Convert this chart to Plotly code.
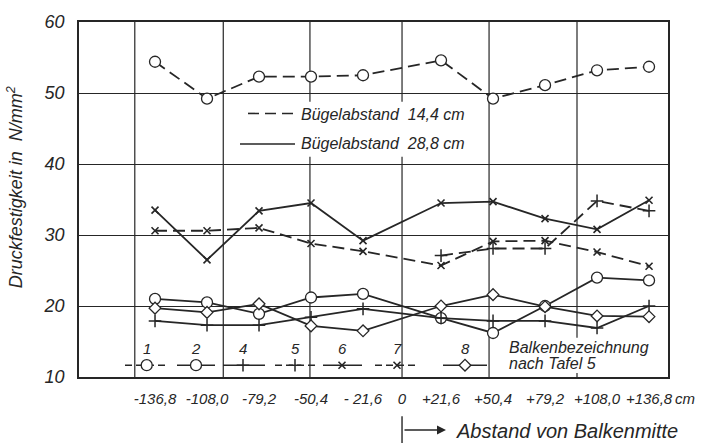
import plotly.graph_objects as go

# ---------------- data ----------------
X_CM = [-136.8, -108.0, -79.2, -50.4, -21.6, 21.6, 50.4, 79.2, 108.0, 136.8]
TICK_CM = [-136.8, -108.0, -79.2, -50.4, -21.6, 0, 21.6, 50.4, 79.2, 108.0, 136.8]
TICK_LABELS = ["-136,8", "-108,0", "-79,2", "-50,4", "- 21,6", "0",
               "+21,6", "+50,4", "+79,2", "+108,0", "+136,8"]
Y_TICKS = [10, 20, 30, 40, 50, 60]
BEAMS = ["1", "2", "4", "5", "6", "7", "8"]

BEAM_1 = [54.4, 49.2, 52.3, 52.3, 52.5, 54.6, 49.2, 51.1, 53.2, 53.7]
BEAM_2 = [21.0, 20.5, 18.9, 21.2, 21.7, 18.3, 16.2, 20.0, 24.0, 23.6]
BEAM_4 = [17.9, 17.3, 17.3, 18.4, 19.6, 18.3, 17.9, 17.9, 16.9, 20.0]
BEAM_5 = [None, None, None, None, None, 27.1, 28.1, 28.1, 34.8, 33.4]
BEAM_6 = [33.5, 26.5, 33.4, 34.5, 29.2, 34.5, 34.7, 32.3, 30.8, 34.9]
BEAM_7 = [30.6, 30.6, 31.0, 28.8, 27.7, 25.7, 29.1, 29.2, 27.6, 25.6]
BEAM_8 = [19.7, 19.1, 20.3, 17.2, 16.5, 20.0, 21.6, 19.9, 18.6, 18.5]

# ---------------- styles / geometry ----------------
INK = "#262626"
FONT = "Liberation Sans"
W, H = 702, 444
L, R, T, B = 79, 668, 16, 377
X_RANGE = [-178.9, 147.3]
GRID_X = [-148.0, -99.0, -51.0, 0.0, 48.2, 96.9]
DASH = "12px,6px"


def px(x):
    return (x - L) / (R - L)


def py(y):
    return (B - y) / (B - T)


MARKERS = {
    "circle": dict(symbol="circle", size=11, color="white", line=dict(color=INK, width=1.3)),
    "cross": dict(symbol="cross-thin", size=9, color=INK, line=dict(color=INK, width=1.5)),
    "x": dict(symbol="x-thin", size=7, color=INK, line=dict(color=INK, width=1.6)),
    "diamond": dict(symbol="diamond", size=9, color="white", line=dict(color=INK, width=1.3)),
}

SERIES = [
    (BEAM_1, "dashed", "circle"),
    (BEAM_2, "solid", "circle"),
    (BEAM_4, "solid", "cross"),
    (BEAM_5, "dashed", "cross"),
    (BEAM_6, "solid", "x"),
    (BEAM_7, "dashed", "x"),
    (BEAM_8, "solid", "diamond"),
]

fig = go.Figure()

for name, (vals, style, sym) in zip(BEAMS, SERIES):
    fig.add_trace(go.Scatter(
        x=X_CM, y=vals, name="Balken " + name, mode="lines+markers",
        line=dict(color=INK, width=1.8, dash=DASH if style == "dashed" else "solid"),
        marker=MARKERS[sym], showlegend=False, connectgaps=False,
    ))

# ---- legend keys (pixel-unit overlay axes) ----
KEY_Y = 365
KEY_NUM_Y = 348
KEY_POS = [(125, 146.7, 166), (177, 196, 215), (223, 243, 265), (275, 295, 315),
           (323, 342, 362), (375, 397, 417), (443, 465, 487)]
for name, (vals, style, sym), (x0, xm, x1) in zip(BEAMS, SERIES, KEY_POS):
    fig.add_trace(go.Scatter(
        x=[x0, x1], y=[KEY_Y, KEY_Y], mode="lines", xaxis="x3", yaxis="y3",
        line=dict(color=INK, width=1.5, dash="7px,4px" if style == "dashed" else "solid"),
        showlegend=False, hoverinfo="skip"))
    fig.add_trace(go.Scatter(
        x=[xm], y=[KEY_Y], mode="markers", xaxis="x3", yaxis="y3",
        marker=MARKERS[sym], showlegend=False, hoverinfo="skip"))

# spacing legend keys
fig.add_trace(go.Scatter(x=[248, 295], y=[109, 109], mode="lines", xaxis="x3", yaxis="y3",
                         line=dict(color=INK, width=1.6, dash="11px,6px"),
                         showlegend=False, hoverinfo="skip"))
fig.add_trace(go.Scatter(x=[240, 295], y=[140, 140], mode="lines", xaxis="x3", yaxis="y3",
                         line=dict(color=INK, width=1.6), showlegend=False, hoverinfo="skip"))

shapes = []
for g in GRID_X:
    shapes.append(dict(type="line", xref="x", yref="paper", x0=g, x1=g, y0=0, y1=1,
                       line=dict(color=INK, width=1.2), layer="below"))
# white backing behind legend texts
shapes.append(dict(type="rect", xref="paper", yref="paper", x0=px(240), x1=px(472),
                   y0=py(153), y1=py(97), fillcolor="white", line=dict(width=0), layer="below"))
shapes.append(dict(type="rect", xref="paper", yref="paper", x0=px(504), x1=px(656),
                   y0=py(373), y1=py(337), fillcolor="white", line=dict(width=0), layer="below"))
# origin marker below axis
shapes.append(dict(type="line", xref="x", yref="paper", x0=0, x1=0, y0=py(417), y1=py(444),
                   line=dict(color=INK, width=1.4)))

fnt = lambda s: dict(family=FONT, size=s, color=INK, style="italic")

annotations = [
    dict(text="Druckfestigkeit in\u00a0 N/mm<sup>2</sup>", textangle=-90, xref="paper", yref="paper",
         x=px(15), y=py(184), xanchor="center", yanchor="middle", showarrow=False, font=fnt(18)),
    dict(text="Bügelabstand\u00a0 14,4 cm", xref="paper", yref="paper", x=px(299), y=py(110),
         xanchor="left", yanchor="middle", showarrow=False, font=fnt(16)),
    dict(text="Bügelabstand\u00a0 28,8 cm", xref="paper", yref="paper", x=px(299), y=py(140),
         xanchor="left", yanchor="middle", showarrow=False, font=fnt(16)),
    dict(text="Balkenbezeichnung", xref="paper", yref="paper", x=px(507), y=py(347),
         xanchor="left", yanchor="middle", showarrow=False, font=fnt(16)),
    dict(text="nach Tafel 5", xref="paper", yref="paper", x=px(507), y=py(363),
         xanchor="left", yanchor="middle", showarrow=False, font=fnt(16)),
    dict(text="cm", xref="paper", yref="paper", x=px(673), y=py(399),
         xanchor="left", yanchor="middle", showarrow=False, font=fnt(15)),
    dict(text="", xref="paper", yref="paper", x=px(446), y=py(431), ax=-43, ay=0,
         axref="pixel", ayref="pixel", showarrow=True, arrowhead=2, arrowsize=1.2,
         arrowwidth=1.5, arrowcolor=INK),
    dict(text="Abstand von Balkenmitte", xref="paper", yref="paper", x=px(454), y=py(432),
         xanchor="left", yanchor="middle", showarrow=False, font=fnt(20)),
]
for name, (x0, xm, x1) in zip(BEAMS, KEY_POS):
    annotations.append(dict(text=name, xref="paper", yref="paper", x=px(xm), y=py(KEY_NUM_Y),
                            xanchor="center", yanchor="middle", showarrow=False, font=fnt(15)))

fig.update_layout(
    width=W, height=H,
    margin=dict(l=L, r=W - R, t=T, b=H - B, pad=0),
    paper_bgcolor="white", plot_bgcolor="white",
    font=dict(family=FONT, color=INK, style="italic"),
    xaxis=dict(range=X_RANGE, tickmode="array", tickvals=TICK_CM, ticktext=TICK_LABELS,
               showgrid=False, zeroline=False, showline=True, mirror=True,
               linecolor=INK, linewidth=1.6, ticks="", tickfont=fnt(15),
               ticklabelstandoff=7),
    yaxis=dict(range=[10, 60], tickmode="array", tickvals=Y_TICKS, showgrid=True,
               gridcolor=INK, gridwidth=1.2, zeroline=False, showline=True, mirror=True,
               linecolor=INK, linewidth=1.6, ticks="", tickfont=fnt(18),
               ticklabelstandoff=9),
    xaxis3=dict(range=[L, R], overlaying="x", visible=False, fixedrange=True),
    yaxis3=dict(range=[B, T], overlaying="y", visible=False, fixedrange=True),
    shapes=shapes,
    annotations=annotations,
    showlegend=False,
)

fig.write_html("out.html")
